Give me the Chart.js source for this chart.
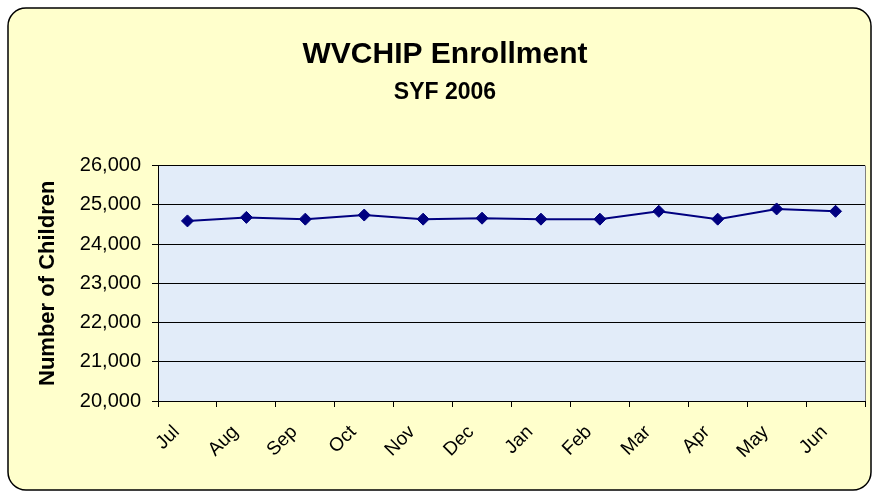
<!DOCTYPE html>
<html>
<head>
<meta charset="utf-8">
<script src="https://cdn.jsdelivr.net/npm/chart.js@4.4.1/dist/chart.umd.min.js"></script>
<style>
  html, body { margin: 0; padding: 0; background: #ffffff; }
  canvas { display: block; }
</style>
</head>
<body>
<canvas id="c" width="874" height="493"></canvas>
<script>
const months = ['Jul','Aug','Sep','Oct','Nov','Dec','Jan','Feb','Mar','Apr','May','Jun'];
const enrollment = [24590, 24680, 24635, 24740, 24635, 24660, 24635, 24635, 24835, 24635, 24895, 24835];
const yMin = 20000;
const yMax = 26000;
const yStep = 1000;
const titleText = 'WVCHIP Enrollment';
const subtitleText = 'SYF 2006';
const yAxisTitle = 'Number of Children';

const FONT = "'Liberation Sans', Arial, sans-serif";

const backgroundPlugin = {
  id: 'bg',
  beforeDraw(chart) {
    const ctx = chart.ctx;
    const W = chart.width, H = chart.height;
    ctx.save();
    ctx.fillStyle = '#ffffff';
    ctx.fillRect(0, 0, W, H);
    const x = 8, y = 8, w = 863, h = 482, r = 18;
    ctx.beginPath();
    ctx.moveTo(x + r, y);
    ctx.lineTo(x + w - r, y);
    ctx.arcTo(x + w, y, x + w, y + r, r);
    ctx.lineTo(x + w, y + h - r);
    ctx.arcTo(x + w, y + h, x + w - r, y + h, r);
    ctx.lineTo(x + r, y + h);
    ctx.arcTo(x, y + h, x, y + h - r, r);
    ctx.lineTo(x, y + r);
    ctx.arcTo(x, y, x + r, y, r);
    ctx.closePath();
    ctx.fillStyle = '#FFFFCC';
    ctx.fill();
    ctx.lineWidth = 1.5;
    ctx.strokeStyle = '#000000';
    ctx.stroke();
    const a = chart.chartArea;
    ctx.fillStyle = '#E2ECF9';
    ctx.fillRect(a.left, a.top, a.right - a.left, a.bottom - a.top);
    ctx.restore();
  },
  afterDatasetsDraw(chart) {
    const ctx = chart.ctx;
    const a = chart.chartArea;
    ctx.save();
    ctx.strokeStyle = '#808080';
    ctx.lineWidth = 1;
    ctx.beginPath();
    ctx.moveTo(a.right + 0.5, a.top);
    ctx.lineTo(a.right + 0.5, a.bottom);
    ctx.stroke();
    ctx.restore();
  }
};

new Chart(document.getElementById('c'), {
  type: 'line',
  data: {
    labels: months,
    datasets: [{
      data: enrollment,
      borderColor: '#000080',
      backgroundColor: '#000080',
      borderWidth: 2,
      pointStyle: 'rectRot',
      pointRadius: 6,
      pointBackgroundColor: '#000080',
      pointBorderColor: '#000080',
      pointBorderWidth: 1,
      tension: 0,
      fill: false
    }]
  },
  options: {
    responsive: false,
    devicePixelRatio: 1,
    animation: false,
    events: [],
    layout: { padding: { left: 25, right: 9, top: 0, bottom: 0 } },
    plugins: {
      legend: { display: false },
      tooltip: { enabled: false },
      title: {
        display: true,
        text: titleText,
        color: '#000000',
        font: { family: FONT, size: 30, weight: 'bold', lineHeight: 1.2 },
        padding: { top: 37, bottom: 0 }
      },
      subtitle: {
        display: true,
        text: subtitleText,
        color: '#000000',
        font: { family: FONT, size: 23, weight: 'bold', lineHeight: 1.2 },
        padding: { top: 6, bottom: 59 }
      }
    },
    scales: {
      x: {
        type: 'category',
        offset: true,
        grid: {
          display: true,
          offset: true,
          drawOnChartArea: false,
          drawTicks: true,
          tickLength: 6,
          color: '#000000',
          lineWidth: 1
        },
        border: { display: true, color: '#000000', width: 1 },
        ticks: {
          color: '#000000',
          font: { family: FONT, size: 19 },
          minRotation: 45,
          maxRotation: 45,
          padding: 14,
          labelOffset: -11,
          autoSkip: false
        },
        afterFit(scale) { scale.height = 92; }
      },
      y: {
        type: 'linear',
        min: yMin,
        max: yMax,
        grid: {
          color: '#000000',
          lineWidth: 1,
          drawTicks: true,
          tickLength: 6
        },
        border: { display: true, color: '#000000', width: 1 },
        ticks: {
          stepSize: yStep,
          color: '#000000',
          font: { family: FONT, size: 20 },
          padding: 11,
          callback: (v) => v.toLocaleString('en-US')
        },
        title: {
          display: true,
          text: yAxisTitle,
          color: '#000000',
          font: { family: FONT, size: 22, weight: 'bold', lineHeight: 1.2 },
          padding: { top: 10, bottom: 0 }
        },
        afterFit(scale) { scale.width = 133; }
      }
    }
  },
  plugins: [backgroundPlugin]
});
</script>
</body>
</html>
